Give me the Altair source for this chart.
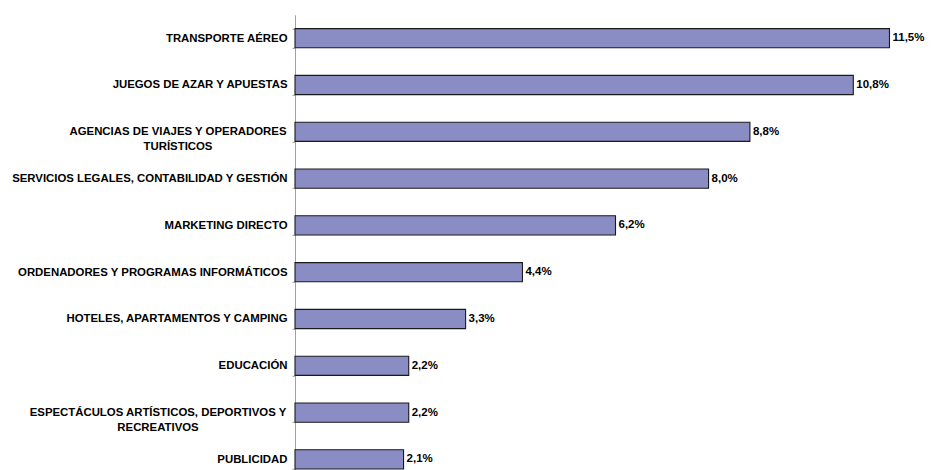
import altair as alt
import pandas as pd

categories = [
    "TRANSPORTE AÉREO",
    "JUEGOS DE AZAR Y APUESTAS",
    "AGENCIAS DE VIAJES Y OPERADORES|TURÍSTICOS",
    "SERVICIOS LEGALES, CONTABILIDAD Y GESTIÓN",
    "MARKETING DIRECTO",
    "ORDENADORES Y PROGRAMAS INFORMÁTICOS",
    "HOTELES, APARTAMENTOS Y CAMPING",
    "EDUCACIÓN",
    "ESPECTÁCULOS ARTÍSTICOS, DEPORTIVOS Y|RECREATIVOS",
    "PUBLICIDAD",
]
values = [11.5, 10.8, 8.8, 8.0, 6.2, 4.4, 3.3, 2.2, 2.2, 2.1]
value_labels = ["11,5%", "10,8%", "8,8%", "8,0%", "6,2%", "4,4%", "3,3%", "2,2%", "2,2%", "2,1%"]

df = pd.DataFrame({"cat": categories, "val": values, "lab": value_labels})

FONT = "Liberation Sans"
LABEL_SIZE = 11.4

y_scale = alt.Scale(range=[0, 468], paddingInner=0.59, paddingOuter=0.295)

y_enc = alt.Y(
    "cat:N",
    sort=categories,
    scale=y_scale,
    axis=alt.Axis(
        title=None,
        # two-line labels are drawn by centred text layers below
        labelExpr="indexof(datum.label, '|') >= 0 ? '' : datum.label",
        labelFont=FONT,
        labelFontWeight="bold",
        labelFontSize=LABEL_SIZE,
        labelColor="#000000",
        labelAlign="right",
        labelBaseline="middle",
        labelPadding=5,
        labelLimit=0,
        labelOverlap=False,
        tickSize=3,
        tickColor="#a0a0a0",
        domainColor="#a0a0a0",
        tickBand="extent",
        grid=False,
    ),
)
x_enc = alt.X("val:Q", scale=alt.Scale(domain=[0, 11.8], nice=False), axis=None)
y_plain = alt.Y("cat:N", sort=categories)

bars = alt.Chart(df).mark_bar(
    fill="#8a8dc4", stroke="#1a1a1a", strokeWidth=1.1
).encode(x=x_enc, y=y_enc)

texts = alt.Chart(df).mark_text(
    align="left", baseline="middle", dx=3, font=FONT, fontWeight="bold", fontSize=11.5, color="#000000"
).encode(x=x_enc, y=y_plain, text="lab:N")


def two_line(prefix, center_offset):
    return (
        alt.Chart(df)
        .transform_filter(f"indexof(datum.cat, '{prefix}') == 0")
        .mark_text(
            align="center", baseline="middle", lineBreak="|", lineHeight=15.5,
            font=FONT, fontWeight="bold", fontSize=LABEL_SIZE, color="#000000",
        )
        .encode(x=alt.value(-center_offset), y=y_plain, text="cat:N")
    )


multi1 = two_line("AGENCIAS", 117)
multi2 = two_line("ESPECT", 137)

chart = (
    alt.layer(bars, texts, multi1, multi2)
    .properties(
        width=610,
        height=455,
        autosize=alt.AutoSizeParams(type="none"),
        padding={"left": 287, "top": 6.8, "right": 21, "bottom": 0},
        background="white",
    )
    .configure_view(stroke=None)
)

chart.save("out.html", embed_options={"renderer": "svg", "actions": False})
